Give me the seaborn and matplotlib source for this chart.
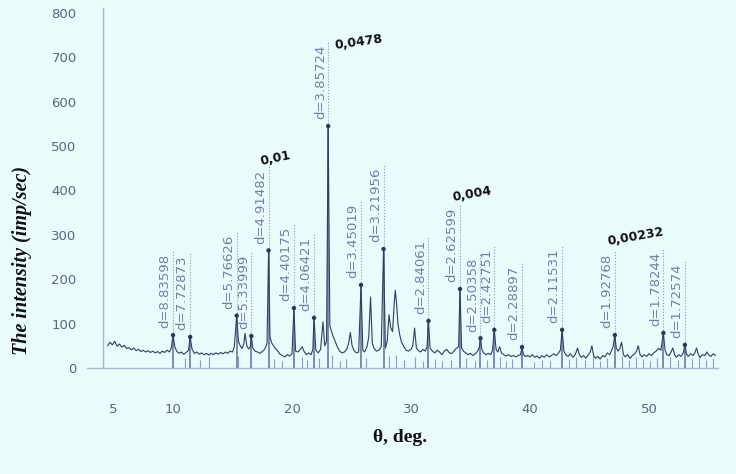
import matplotlib
matplotlib.use('Agg')
import matplotlib.pyplot as plt
from matplotlib.ticker import MultipleLocator
import seaborn as sns

# --- data ---
trace_x = [4.5, 4.7, 4.9, 5.1, 5.3, 5.5, 5.7, 5.9, 6.1, 6.3,
           6.5, 6.7, 6.9, 7.1, 7.3, 7.5, 7.7, 7.9, 8.1, 8.3,
           8.5, 8.7, 8.9, 9.1, 9.3, 9.5, 9.7, 9.85, 10.0, 10.15,
           10.3, 10.5, 10.7, 10.9, 11.1, 11.3, 11.44, 11.6, 11.8, 12.0,
           12.2, 12.4, 12.6, 12.8, 13.0, 13.2, 13.4, 13.6, 13.8, 14.0,
           14.2, 14.4, 14.6, 14.8, 15.0, 15.15, 15.35, 15.5, 15.65, 15.8,
           15.95, 16.05, 16.2, 16.35, 16.5, 16.58, 16.7, 16.9, 17.1, 17.3,
           17.5, 17.7, 17.9, 18.03, 18.15, 18.3, 18.45, 18.6, 18.8, 19.0,
           19.2, 19.4, 19.6, 19.8, 20.0, 20.16, 20.3, 20.5, 20.7, 20.85,
           21.0, 21.2, 21.4, 21.6, 21.75, 21.85, 22.0, 22.2, 22.4, 22.6,
           22.75, 22.9, 23.04, 23.18, 23.3, 23.45, 23.6, 23.8, 24.0, 24.2,
           24.4, 24.6, 24.75, 24.9, 25.05, 25.2, 25.4, 25.6, 25.8, 25.95,
           26.1, 26.3, 26.45, 26.6, 26.75, 26.9, 27.1, 27.3, 27.5, 27.69,
           27.85, 28.0, 28.15, 28.3, 28.45, 28.6, 28.68, 28.8, 28.9, 29.05,
           29.2, 29.4, 29.6, 29.8, 30.0, 30.15, 30.3, 30.45, 30.6, 30.8,
           31.0, 31.2, 31.35, 31.47, 31.6, 31.8, 32.0, 32.2, 32.4, 32.6,
           32.8, 33.0, 33.2, 33.4, 33.6, 33.8, 34.0, 34.12, 34.25, 34.4,
           34.6, 34.8, 35.0, 35.2, 35.4, 35.6, 35.75, 35.84, 35.95, 36.1,
           36.3, 36.5, 36.7, 36.85, 37.0, 37.15, 37.3, 37.45, 37.6, 37.8,
           38.0, 38.2, 38.4, 38.6, 38.8, 39.0, 39.2, 39.33, 39.45, 39.6,
           39.8, 40.0, 40.2, 40.4, 40.6, 40.8, 41.0, 41.2, 41.4, 41.6,
           41.8, 42.0, 42.2, 42.4, 42.55, 42.7, 42.85, 43.0, 43.2, 43.4,
           43.6, 43.8, 44.0, 44.15, 44.3, 44.5, 44.7, 44.9, 45.05, 45.2,
           45.35, 45.5, 45.7, 45.9, 46.1, 46.3, 46.5, 46.7, 46.9, 47.0,
           47.13, 47.25, 47.4, 47.55, 47.7, 47.85, 48.0, 48.2, 48.4, 48.6,
           48.8, 48.95, 49.1, 49.25, 49.4, 49.6, 49.8, 50.0, 50.2, 50.4,
           50.6, 50.8, 51.0, 51.21, 51.35, 51.5, 51.7, 51.85, 52.0, 52.15,
           52.3, 52.5, 52.7, 52.9, 53.02, 53.15, 53.3, 53.5, 53.7, 53.85,
           54.0, 54.15, 54.3, 54.5, 54.7, 54.85, 55.0, 55.2, 55.4, 55.6]
trace_y = [50, 58, 52, 60, 49, 54, 47, 51, 44, 46,
           41, 45, 39, 42, 37, 40, 36, 39, 35, 38,
           34, 37, 33, 38, 35, 40, 36, 45, 74, 48,
           38, 33, 36, 31, 35, 40, 70, 42, 33, 36,
           31, 34, 30, 33, 29, 33, 30, 34, 31, 35,
           32, 36, 33, 38, 36, 48, 118, 60, 50, 44,
           55, 78, 50, 43, 48, 72, 45, 38, 36, 33,
           37, 42, 55, 265, 70, 56, 50, 44, 38, 31,
           28, 25, 30, 27, 32, 135, 38, 36, 42, 48,
           38, 30, 34, 30, 42, 113, 40, 34, 42, 104,
           50, 60, 545, 95, 84, 72, 62, 48, 38, 34,
           36, 42, 55, 80, 50, 40, 34, 36, 187, 40,
           36, 48, 70, 160, 55, 44, 38, 40, 48, 268,
           45, 60, 120, 90, 82, 150, 175, 140, 100, 75,
           58, 48, 40, 38, 42, 50, 90, 45, 40, 36,
           42, 38, 48, 106, 45, 38, 34, 40, 36, 30,
           38, 42, 35, 32, 38, 44, 48, 178, 45, 38,
           34, 30, 33, 28, 32, 38, 48, 67, 42, 34,
           30, 33, 30, 40, 86, 42, 36, 48, 34, 30,
           27, 30, 26, 28, 25, 28, 30, 47, 30, 26,
           28, 25, 30, 24, 27, 22, 28, 24, 30, 25,
           28, 32, 28, 34, 40, 86, 38, 30, 26, 32,
           24, 30, 45, 30, 24, 28, 22, 30, 35, 50,
           28, 22, 26, 20, 28, 25, 34, 30, 42, 50,
           74, 45, 38, 44, 58, 30, 25, 30, 22, 28,
           32, 38, 50, 30, 25, 30, 26, 32, 28, 34,
           38, 44, 40, 79, 40, 30, 28, 36, 45, 30,
           24, 30, 26, 35, 52, 32, 26, 32, 28, 34,
           45, 30, 24, 30, 28, 36, 30, 26, 32, 28]

peak_pos = [10.00, 11.44, 15.35, 16.58, 18.03, 20.16, 21.85, 23.04, 25.80, 27.69,
            31.47, 34.12, 35.84, 37.00, 39.33, 42.70, 47.13, 51.21, 53.02]
peak_int = [74, 70, 118, 72, 265, 135, 113, 545, 187, 268,
            106, 178, 67, 86, 47, 86, 74, 79, 52]
peak_lbl = ['d=8.83598', 'd=7.72873', 'd=5.76626', 'd=5.33999', 'd=4.91482',
            'd=4.40175', 'd=4.06421', 'd=3.85724', 'd=3.45019', 'd=3.21956',
            'd=2.84061', 'd=2.62599', 'd=2.50358', 'd=2.42751', 'd=2.28897',
            'd=2.11531', 'd=1.92768', 'd=1.78244', 'd=1.72574']

# reference sticks under the trace
stick_pos = [11.0, 12.3, 13.0, 15.5, 18.5, 19.2, 20.8, 21.3, 22.3, 23.4,
             24.0, 24.5, 26.2, 28.15, 28.7, 29.4, 30.3, 31.0, 32.0, 32.6,
             33.4, 34.6, 35.4, 36.4, 37.5, 38.0, 38.5, 40.3, 41.0, 41.7,
             43.3, 43.9, 44.6, 45.3, 45.9, 46.5, 47.7, 48.3, 48.9, 49.5,
             50.1, 50.7, 51.8, 52.4, 53.6, 54.2, 54.8, 55.4]
stick_int = [22, 18, 25, 28, 20, 15, 24, 18, 22, 30,
             16, 20, 22, 28, 30, 18, 24, 15, 20, 16,
             18, 22, 15, 18, 24, 16, 20, 14, 18, 16,
             20, 24, 18, 26, 16, 22, 28, 18, 24, 20,
             16, 22, 24, 18, 20, 26, 18, 22]

notes = ['0,01', '0,0478', '0,004', '0,00232']

# --- style ---
bg = '#e9fbfb'
axis_col = '#a9b6d2'
sns.set_theme(style='white', rc={'figure.facecolor': bg, 'axes.facecolor': bg})
plt.rcParams['font.family'] = ['DejaVu Sans']

fig = plt.figure(figsize=(7.36, 4.74), dpi=100)
ax = fig.add_axes([87/736, 106/474, 631/736, 360/474])
ax.set_xlim(2.77, 55.8)
ax.set_ylim(0, 811)

# reference sticks
ax.vlines(stick_pos, 0, stick_int, color='#8c9cc8', lw=0.8, zorder=1)

# trace
sns.lineplot(x=trace_x, y=trace_y, ax=ax, color='#333d5e', lw=0.8,
             sort=False, estimator=None, zorder=3)

# labelled peaks: stem, dot, dotted guide and d-spacing text
ax.vlines(peak_pos, 0, peak_int, color='#7282b0', lw=1.3, zorder=2)
sns.scatterplot(x=peak_pos, y=peak_int, ax=ax, color='#2d3757', s=10,
                edgecolor='none', zorder=4)
for x, h, lab in zip(peak_pos, peak_int, peak_lbl):
    ax.vlines(x, h, h + 190, color='#8a98c0', lw=0.8, linestyles=':', zorder=2)
    ax.text(x - 0.12, h + 15, lab, rotation=90, ha='right', va='bottom',
            fontsize=9.5, color='#7080a6')

# bold values near selected peaks
note_x = [18.6, 25.6, 35.1, 48.9]
note_y = [473, 734, 392, 297]
note_rot = [12, 8, 10, 10]
for t, x, y, r in zip(notes, note_x, note_y, note_rot):
    ax.text(x, y, t, ha='center', va='center', rotation=r,
            fontsize=9, fontweight='bold', color='#111111')

# axes
for s in ['top', 'right']:
    ax.spines[s].set_visible(False)
ax.spines['left'].set_position(('data', 4.12))
for s in ['left', 'bottom']:
    ax.spines[s].set_color(axis_col)
    ax.spines[s].set_linewidth(1.0)

ax.set_yticks(range(0, 801, 100))
ax.yaxis.set_minor_locator(MultipleLocator(50))
ax.set_xticks([5, 10, 20, 30, 40, 50])
ax.xaxis.set_minor_locator(MultipleLocator(2))
ax.tick_params(axis='y', which='major', direction='out', length=6, width=0.8,
               color='#c3cde2', pad=13, labelsize=9.5, labelcolor='#5b6680')
ax.tick_params(axis='y', which='minor', direction='out', length=5, width=0.8,
               color='#c3cde2')
ax.tick_params(axis='x', which='major', direction='out', length=8, width=0.8,
               color='#c3cde2', pad=17, labelsize=9.5, labelcolor='#5b6680')
ax.tick_params(axis='x', which='minor', direction='out', length=4, width=0.8,
               color='#c3cde2')

fig.text(22/736, 1 - 260/474, 'The intensity (imp/sec)', rotation=90,
         ha='center', va='center', fontsize=14.5, fontweight='bold',
         fontstyle='italic', family='Liberation Serif', color='#111111')
fig.text(400/736, 1 - 438/474, 'θ, deg.', ha='center', va='center',
         fontsize=14, fontweight='bold', family='Liberation Serif', color='#111111')

fig.savefig('out.png', dpi=100, facecolor=bg)
